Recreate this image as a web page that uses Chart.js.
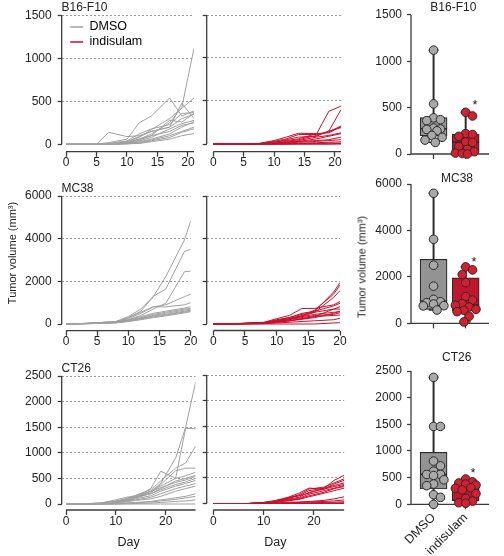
<!DOCTYPE html>
<html>
<head>
<meta charset="utf-8">
<script src="https://cdn.jsdelivr.net/npm/chart.js"></script>
<style>
html,body{margin:0;padding:0;background:#fff;}
#wrap{position:relative;width:504px;height:556px;overflow:hidden;font-family:'Liberation Sans',Arial,sans-serif;color:#222;}
#wrap canvas{position:absolute;left:0;top:0;}
.t{position:absolute;line-height:1;white-space:nowrap;}
</style>
</head>
<body>
<div id="wrap"></div>
<script>
// ---------------- data ----------------
const GROUPS = ['DMSO', 'indisulam'];
const MODELS = ['B16-F10', 'MC38', 'CT26'];
const Y_TITLE = 'Tumor volume (mm\u00B3)';
const X_TITLE = 'Day';
const SIG = '*';

const B16_DAYS = [0, 5, 7, 10, 12, 14, 17, 19, 21];
const B16_XTICKS = [0, 5, 10, 15, 20];
const B16_YTICKS = [0, 500, 1000, 1500];
const B16_DMSO = [
  [0,0,0,20,60,120,250,430,1120],
  [0,0,20,60,250,330,540,330,390],
  [0,0,140,90,100,150,200,480,300],
  [0,0,0,30,80,170,300,420,540],
  [0,0,10,40,120,180,230,360,370],
  [0,0,0,20,50,100,280,260,360],
  [0,0,5,30,90,150,200,300,350],
  [0,0,0,15,40,80,180,240,280],
  [0,0,0,10,30,60,120,200,265],
  [0,0,0,20,60,100,150,220,250],
  [0,0,0,10,20,50,100,150,200],
  [0,0,0,5,15,40,80,140,180],
  [0,0,0,5,10,30,60,100,125]
];
const B16_INDI = [
  [0,0,0,20,40,60,120,380,440],
  [0,0,0,10,30,50,100,150,400],
  [0,0,0,30,60,110,110,140,210],
  [0,0,0,40,80,125,120,130,200],
  [0,0,0,20,50,80,90,150,190],
  [0,0,0,10,20,40,80,100,130],
  [0,0,0,5,15,30,60,90,120],
  [0,0,0,10,20,30,40,50,80],
  [0,0,0,5,10,20,30,40,50],
  [0,0,0,0,5,10,15,20,25],
  [0,0,0,0,0,5,5,10,10],
  [0,0,0,0,0,0,0,0,5],
  [0,0,0,0,0,0,0,0,0]
];
const B16_PTS_DMSO = [1120, 540, 390, 370, 360, 280, 270, 265, 250, 200, 180, 150, 125];
const B16_PTS_INDI = [450, 410, 220, 210, 190, 130, 125, 80, 50, 25, 10, 5, 0];
// [min, q1, median, q3, max]
const B16_BOX_DMSO = [125, 196, 271, 392, 1120];
const B16_BOX_INDI = [0, 24, 128, 215, 451];

const MC38_DAYS = [0, 3, 5, 8, 10, 12, 14, 16, 19, 20];
const MC38_XTICKS = [0, 5, 10, 15, 20];
const MC38_YTICKS = [0, 2000, 4000, 6000];
const MC38_DMSO = [
  [0,30,60,120,300,600,1280,2220,3940,4840],
  [0,30,60,110,350,700,1300,1640,3400,3500],
  [0,20,50,100,200,400,700,970,2450,2480],
  [0,20,50,100,250,500,800,900,1280,1400],
  [0,25,60,110,300,550,810,800,900,1000],
  [0,20,40,80,200,350,500,600,750,810],
  [0,20,40,80,180,300,450,550,700,730],
  [0,15,35,70,150,280,400,500,650,690],
  [0,15,30,60,140,250,380,450,600,650],
  [0,10,30,60,130,220,330,420,560,620],
  [0,10,25,50,120,200,300,380,520,580]
];
const MC38_INDI = [
  [0,10,30,60,150,250,400,600,1500,1940],
  [0,10,30,60,150,250,380,650,1400,1830],
  [0,10,25,50,120,220,350,550,1250,1560],
  [0,15,35,80,250,400,730,730,900,1050],
  [0,10,30,70,200,300,500,600,850,970],
  [0,10,25,60,180,300,450,550,700,810],
  [0,10,20,50,150,250,350,450,550,580],
  [0,10,20,40,120,200,300,400,450,530],
  [0,5,15,30,100,150,250,350,400,420],
  [0,5,15,30,100,150,250,350,700,700],
  [0,5,10,20,50,80,120,150,200,270],
  [0,0,0,0,0,0,0,0,50,60],
  [0,5,10,20,80,150,220,300,500,600]
];
const MC38_PTS_DMSO = [5600, 3620, 2500, 1600, 1030, 930, 890, 830, 760, 750, 570];
const MC38_PTS_INDI = [2430, 2300, 2100, 1750, 1150, 1000, 850, 780, 700, 600, 560, 500, 300, 60];
const MC38_BOX_DMSO = [570, 600, 957, 2757, 5600];
const MC38_BOX_INDI = [60, 530, 786, 1957, 2430];

const CT26_DAYS = [0, 3, 7, 10, 12, 14, 17, 19, 22, 24, 26];
const CT26_XTICKS = [0, 10, 20];
const CT26_YTICKS = [0, 500, 1000, 1500, 2000, 2500];
const CT26_DMSO = [
  [0,0,10,40,80,130,250,400,900,1500,2380],
  [0,0,10,50,90,150,300,640,500,1480,1470],
  [0,0,20,60,100,170,280,450,700,800,1130],
  [0,0,10,40,70,120,220,380,650,700,700],
  [0,0,15,50,100,150,250,350,500,550,620],
  [0,0,10,30,60,120,200,300,450,500,560],
  [0,0,20,80,130,160,240,320,420,470,540],
  [0,0,10,40,100,140,200,280,380,430,500],
  [0,0,5,30,60,100,160,250,350,400,460],
  [0,0,5,20,50,80,130,200,300,350,400],
  [0,0,5,20,40,70,100,150,250,300,350],
  [0,0,0,10,20,30,50,80,120,150,200],
  [0,0,0,5,10,20,40,60,90,120,150],
  [0,0,0,0,5,10,20,30,50,60,80],
  [0,0,0,0,0,0,0,0,0,0,0]
];
const CT26_INDI = [
  [0,0,0,20,50,100,150,250,300,450,550],
  [0,0,0,20,40,80,170,280,320,400,480],
  [0,0,0,15,40,90,200,300,280,380,450],
  [0,0,0,20,50,80,150,200,300,350,400],
  [0,0,0,10,30,70,120,220,280,330,370],
  [0,0,0,10,30,60,100,180,250,300,350],
  [0,0,0,10,25,50,90,150,220,290,330],
  [0,0,0,5,20,40,80,130,200,250,300],
  [0,0,0,5,10,20,30,40,60,90,130],
  [0,0,0,0,5,10,20,30,40,50,70],
  [0,0,0,0,0,5,10,15,20,25,35],
  [0,0,0,0,0,0,5,5,10,10,15],
  [0,0,0,0,0,0,0,0,0,0,0]
];
const CT26_PTS_DMSO = [2380, 1460, 1460, 810, 720, 620, 560, 560, 540, 460, 380, 350, 180, 130, 0];
const CT26_PTS_INDI = [475, 420, 400, 380, 360, 310, 300, 270, 200, 110, 60, 30, 20];
const CT26_BOX_DMSO = [0, 287, 562, 975, 2380];
const CT26_BOX_INDI = [20, 62, 290, 362, 475];

// ---------------- style ----------------
const GREY = '#a0a0a0', RED = '#c8102e', GRID = '#9b9b9b', AXIS = '#3c3c3c', TEXT = '#222';
const GREY_BOX = '#939393', RED_BOX = '#c1172d', GREY_PT = '#a8a8a8', RED_PT = '#d51f2f', DARK = '#2a2a2a';
const W = 504, H = 556;
Chart.defaults.font.family = "'Liberation Sans', Arial, sans-serif";
Chart.defaults.font.size = 12;
Chart.defaults.color = TEXT;

const wrap = document.getElementById('wrap');
function makeCanvas() {
  const c = document.createElement('canvas');
  c.width = W; c.height = H; c.style.width = W + 'px'; c.style.height = H + 'px';
  wrap.appendChild(c);
  return c.getContext('2d');
}
const last = a => a[a.length - 1];
const tickList = vals => vals.map(v => ({ value: v }));
const plain = v => String(v);

// R-style axis lines (span of ticks only) + legend placement inside plot
const rAxes = {
  id: 'rAxes',
  afterLayout(chart, args, o) {
    if (o.legendShift && chart.legend) {
      const a = chart.chartArea;
      chart.legend.left = a.left + o.legendShift[0];
      chart.legend.top = a.top + o.legendShift[1];
      chart.legend.right = a.right;
      chart.legend.bottom = a.bottom;
    }
  },
  beforeDatasetsDraw(chart, args, o) {
    const { ctx } = chart; const x = chart.scales.x, y = chart.scales.y;
    ctx.save();
    ctx.strokeStyle = AXIS; ctx.lineWidth = 1.3;
    ctx.beginPath();
    const yt = y.ticks;
    ctx.moveTo(x.left, y.getPixelForValue(yt[0].value));
    ctx.lineTo(x.left, y.getPixelForValue(last(yt).value));
    const x0 = o.fullX ? x.left : x.getPixelForValue(x.ticks[0].value);
    ctx.moveTo(x0, x.top);
    ctx.lineTo(x.right, x.top);
    ctx.stroke();
    ctx.restore();
  }
};

function linePanel(L, days, series, color, yTicks, xTicks, cfg) {
  const xmax = last(days), ymax = last(yTicks);
  const dayPx = (L.endX - L.zeroX) / xmax;
  const valPx = (L.zeroY - L.topY) / ymax;
  const yW = cfg.yLabels ? 50 : 8;
  const xH = cfg.xTitle ? 42 : 20;
  const legend = cfg.legend ? {
    display: true, position: 'chartArea', align: 'start',
    labels: {
      boxWidth: 13, boxHeight: 1.5, padding: 2.5, color: TEXT, font: { size: 12.5 },
      generateLabels: () => GROUPS.map((g, i) => ({ text: g, fillStyle: i ? RED : GREY, strokeStyle: i ? RED : GREY, lineWidth: 0, hidden: false, datasetIndex: 0 }))
    }
  } : { display: false };
  new Chart(makeCanvas(), {
    type: 'line',
    data: { datasets: series.map(s => ({ data: s.map((v, i) => ({ x: days[i], y: v })), borderColor: color, borderWidth: 1, pointRadius: 0, tension: 0, fill: false })) },
    options: {
      responsive: false, animation: false, events: [],
      layout: { padding: { left: L.axisX - yW, top: L.topY, right: W - L.endX, bottom: H - L.axisY - xH } },
      plugins: { tooltip: { enabled: false }, legend: legend, rAxes: { fullX: false, legendShift: cfg.legend ? [6, 2.5] : null } },
      scales: {
        x: {
          type: 'linear', bounds: 'data', offset: false, min: -(L.zeroX - L.axisX) / dayPx, max: xmax,
          afterBuildTicks: s => { s.ticks = tickList(xTicks); }, afterFit: s => { s.height = xH; },
          grid: { drawOnChartArea: false, offset: false, tickLength: 5, tickColor: AXIS, tickWidth: 1.3 },
          border: { display: false },
          ticks: { padding: -1, maxRotation: 0, autoSkip: false, color: TEXT, font: { size: 12 }, callback: plain },
          title: { display: !!cfg.xTitle, text: cfg.xTitle || '', color: TEXT, font: { size: 12.5 }, padding: { top: 0, bottom: 2 } }
        },
        y: {
          type: 'linear', bounds: 'data', min: -(L.axisY - L.zeroY) / valPx, max: ymax,
          afterBuildTicks: s => { s.ticks = tickList(yTicks); }, afterFit: s => { s.width = yW; },
          grid: { color: c => (c.tick && c.tick.value === 0) ? 'rgba(0,0,0,0)' : GRID, lineWidth: 1, tickLength: 4, tickColor: AXIS, tickWidth: 1.3 },
          border: { display: false, dash: [2, 2] },
          ticks: { display: !!cfg.yLabels, padding: 6, autoSkip: false, color: TEXT, font: { size: 12 }, callback: plain }
        }
      }
    },
    plugins: [rAxes]
  });
}

// compact beeswarm: offsets limited to +-maxOff px, overlap allowed when crowded
function swarm(vals, center, pxX, pxY) {
  const d = 8, maxOff = 12, step = 2;
  const cands = [0];
  for (let k = step; k <= maxOff; k += step) { cands.push(k, -k); }
  const idx = vals.map((v, i) => i).sort((a, b) => vals[b] - vals[a]);
  const placed = [], out = [];
  idx.forEach(i => {
    const py = vals[i] * pxY;
    let best = 0, bestScore = -1;
    for (const c of cands) {
      const m = placed.reduce((acc, p) => Math.min(acc, Math.hypot(p[0] - c, p[1] - py)), Infinity);
      if (m >= d) { best = c; bestScore = Infinity; break; }
      if (m > bestScore + 0.5) { bestScore = m; best = c; }
    }
    placed.push([best, py]);
    out.push({ x: center + best / pxX, y: vals[i] });
  });
  return out;
}

function boxPanel(B, yTicks, ptsA, ptsB, statsA, statsB, cfg) {
  const ymax = last(yTicks);
  const catPx = B.cat2X - B.cat1X;
  const valPx = (B.zeroY - B.topY) / ymax;
  const yW = 40, xH = cfg.xLabels ? 50 : 10;
  const st = [statsA, statsB];
  const pt = (extra) => Object.assign({ type: 'scatter', clip: false, pointBorderColor: DARK, borderColor: DARK }, extra);
  new Chart(makeCanvas(), {
    type: 'bar',
    data: {
      datasets: [
        pt({ data: swarm(ptsA, 1, catPx, valPx), pointRadius: 4.3, pointBorderWidth: 1, pointBackgroundColor: GREY_PT, backgroundColor: GREY_PT, order: 1 }),
        pt({ data: swarm(ptsB, 2, catPx, valPx), pointRadius: 4.3, pointBorderWidth: 1, pointBackgroundColor: RED_PT, backgroundColor: RED_PT, order: 1 }),
        pt({ data: st.map((s, i) => ({ x: i + 1, y: s[2] })), pointStyle: 'line', pointRadius: 13.5, pointBorderWidth: 1.4, order: 2 }),
        pt({ data: st.flatMap((s, i) => [{ x: i + 1, y: s[0] }, { x: i + 1, y: s[4] }]), pointStyle: 'line', pointRadius: 5, pointBorderWidth: 1.4, order: 2 }),
        { type: 'bar', data: st.map((s, i) => ({ x: i + 1, y: [s[1], s[3]] })), backgroundColor: [GREY_BOX, RED_BOX], borderColor: DARK, borderWidth: 1.2, borderSkipped: false, grouped: false, maxBarThickness: 27, categoryPercentage: 1, barPercentage: 1, order: 3 },
        { type: 'bar', data: st.map((s, i) => ({ x: i + 1, y: [s[0], s[4]] })), backgroundColor: DARK, borderWidth: 0, grouped: false, maxBarThickness: 1.3, categoryPercentage: 1, barPercentage: 1, order: 4 }
      ]
    },
    options: {
      responsive: false, animation: false, events: [],
      layout: { padding: { left: B.axisX - yW, top: B.topY, right: W - B.endX, bottom: H - B.zeroY - xH } },
      plugins: { legend: { display: false }, tooltip: { enabled: false }, rAxes: { fullX: true } },
      scales: {
        x: {
          type: 'linear', bounds: 'data', offset: false,
          min: 1 - (B.cat1X - B.axisX) / catPx, max: 2 + (B.endX - B.cat2X) / catPx,
          afterBuildTicks: s => { s.ticks = tickList([1, 2]); }, afterFit: s => { s.height = xH; },
          grid: { drawOnChartArea: false, offset: false, tickLength: 5, tickColor: AXIS, tickWidth: 1.3 },
          border: { display: false },
          ticks: { display: !!cfg.xLabels, autoSkip: false, minRotation: 45, maxRotation: 45, padding: 1, color: TEXT, font: { size: 12.5 }, callback: v => GROUPS[v - 1] }
        },
        y: {
          type: 'linear', bounds: 'data', min: 0, max: ymax,
          afterBuildTicks: s => { s.ticks = tickList(yTicks); }, afterFit: s => { s.width = yW; },
          grid: { drawOnChartArea: false, tickLength: 4, tickColor: AXIS, tickWidth: 1.3 },
          border: { display: false },
          ticks: { padding: 5, autoSkip: false, color: TEXT, font: { size: 12 }, callback: plain }
        }
      }
    },
    plugins: [rAxes]
  });
}

// ---------------- layout (pixel geometry of each panel) ----------------
const L1 = { axisX: 61.7, zeroX: 66, endX: 194, topY: 15.7, zeroY: 144.3, axisY: 151.7 };
const M1 = { axisX: 206.7, zeroX: 213.3, endX: 341, topY: 15, zeroY: 144, axisY: 151.7 };
const L2 = { axisX: 61.7, zeroX: 66, endX: 190.7, topY: 196, zeroY: 324, axisY: 330.7 };
const M2 = { axisX: 206.7, zeroX: 213.3, endX: 340, topY: 196, zeroY: 324, axisY: 330.5 };
const L3 = { axisX: 61.7, zeroX: 66, endX: 195.6, topY: 376, zeroY: 504, axisY: 510 };
const M3 = { axisX: 206.7, zeroX: 213.3, endX: 344.2, topY: 375, zeroY: 503.5, axisY: 510 };
const BX = { axisX: 411, cat1X: 437.3, cat2X: 474.7, endX: 502 };
const B1 = Object.assign({ topY: 8.5, zeroY: 154 }, BX);
const B2 = Object.assign({ topY: 184, zeroY: 323.3 }, BX);
const B3 = Object.assign({ topY: 371, zeroY: 504.3 }, BX);

linePanel(L1, B16_DAYS, B16_DMSO, GREY, B16_YTICKS, B16_XTICKS, { yLabels: true, legend: true });
linePanel(M1, B16_DAYS, B16_INDI, RED, B16_YTICKS, B16_XTICKS, {});
linePanel(L2, MC38_DAYS, MC38_DMSO, GREY, MC38_YTICKS, MC38_XTICKS, { yLabels: true });
linePanel(M2, MC38_DAYS, MC38_INDI, RED, MC38_YTICKS, MC38_XTICKS, {});
linePanel(L3, CT26_DAYS, CT26_DMSO, GREY, CT26_YTICKS, CT26_XTICKS, { yLabels: true, xTitle: X_TITLE });
linePanel(M3, CT26_DAYS, CT26_INDI, RED, CT26_YTICKS, CT26_XTICKS, { xTitle: X_TITLE });
boxPanel(B1, B16_YTICKS, B16_PTS_DMSO, B16_PTS_INDI, B16_BOX_DMSO, B16_BOX_INDI, {});
boxPanel(B2, MC38_YTICKS, MC38_PTS_DMSO, MC38_PTS_INDI, MC38_BOX_DMSO, MC38_BOX_INDI, {});
boxPanel(B3, CT26_YTICKS, CT26_PTS_DMSO, CT26_PTS_INDI, CT26_BOX_DMSO, CT26_BOX_INDI, { xLabels: true });

// ---------------- text labels ----------------
function text(str, x, y, o) {
  o = o || {};
  const size = o.size || 12;
  const d = document.createElement('div');
  d.className = 't';
  d.textContent = str;
  d.style.fontSize = size + 'px';
  d.style.left = x + 'px';
  if (o.rot) {
    d.style.top = y + 'px';
    d.style.transform = 'translate(-50%,-50%) rotate(-90deg)';
  } else {
    d.style.top = (y - (o.dy == null ? 0.4885 : o.dy) * size) + 'px';
    if (o.center) d.style.transform = 'translateX(-50%)';
  }
  wrap.appendChild(d);
}
text(MODELS[0], 61.5, 7);
text(MODELS[1], 61.5, 188.3);
text(MODELS[2], 61.5, 368);
text(MODELS[0], 453.3, 7, { center: true });
text(MODELS[1], 457, 178, { center: true });
text(MODELS[2], 456.7, 357, { center: true });
text(SIG, 475, 101.7, { center: true, size: 13, dy: 0.26 });
text(SIG, 474, 258.3, { center: true, size: 13, dy: 0.26 });
text(SIG, 473, 469, { center: true, size: 13, dy: 0.26 });
text(Y_TITLE, 11.7, 253, { rot: true, size: 11 });
text(Y_TITLE, 361.7, 267, { rot: true, size: 11 });
</script>
</body>
</html>
